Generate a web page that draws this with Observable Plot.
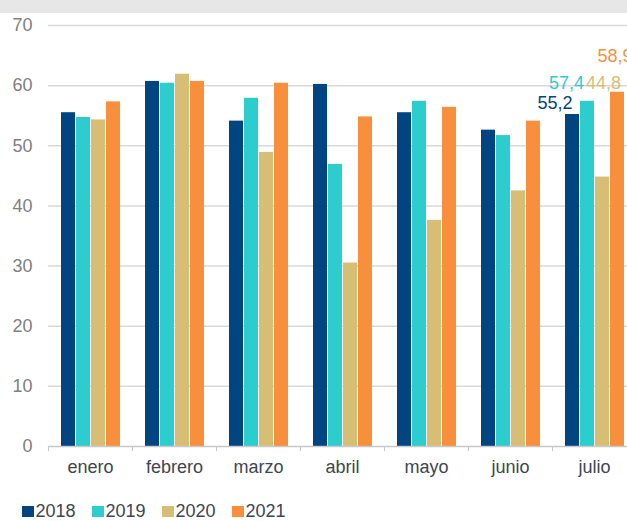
<!DOCTYPE html>
<html><head><meta charset="utf-8">
<script src="https://cdn.jsdelivr.net/npm/d3@7"></script>
<script src="https://cdn.jsdelivr.net/npm/@observablehq/plot@0.6"></script>
<style>
body{margin:0;background:#fff;font-family:"Liberation Sans",Arial,sans-serif;}
#wrap{width:627px;height:521px;overflow:hidden;position:relative;background:#fff;}
#band{height:13px;background:#e7e7e7;}
#chart{width:636px;}
#chart svg{display:block;max-width:none !important;}
#legend{position:absolute;left:22px;top:501px;display:flex;font-size:18px;color:#3d4651;line-height:21px;}
.item{display:flex;align-items:center;width:70px;}
.sw{width:12px;height:11px;margin-right:1.5px;}
</style></head><body><div id="wrap"><div id="band"></div><div id="chart"></div><div id="legend"></div></div>
<script>
const months = ["enero","febrero","marzo","abril","mayo","junio","julio"];
const years = ["2018","2019","2020","2021"];
const colors = ["#004481","#2dcccd","#d8be75","#f78f3c"];
const v2018 = [55.5, 60.7, 54.1, 60.2, 55.5, 52.6, 55.2];
const v2019 = [54.7, 60.4, 57.9, 46.9, 57.4, 51.7, 57.4];
const v2020 = [54.3, 61.9, 48.9, 30.5, 37.6, 42.5, 44.8];
const v2021 = [57.3, 60.7, 60.4, 54.8, 56.4, 54.1, 58.9];
const yTicks = [0, 10, 20, 30, 40, 50, 60, 70];
const labelMonth = "julio";

const series = [v2018, v2019, v2020, v2021];
const data = months.flatMap((m, i) => years.map((y, j) => ({month: m, year: y, value: series[j][i]})));
const fmt = v => v.toFixed(1).replace(".", ",");
const colorOf = y => colors[years.indexOf(y)];
const lab = (year, dx, dy) => Plot.text(
  data.filter(d => d.month === labelMonth && d.year === year),
  {fx: "month", x: "year", y: "value", text: d => fmt(d.value), fill: colorOf(year), dx, dy, fontSize: 18}
);

const chart = Plot.plot({
  width: 636, height: 472,
  marginLeft: 48, marginRight: 0, marginTop: 12, marginBottom: 39,
  style: {fontFamily: "Liberation Sans, Arial, sans-serif", background: "white", maxWidth: "none"},
  fx: {domain: months, padding: 0, label: null},
  x: {domain: years, paddingInner: 1/15, paddingOuter: 0.8333, axis: null},
  y: {domain: [0, 70], label: null},
  color: {domain: years, range: colors},
  marks: [
    Plot.ruleY(yTicks.filter(t => t > 0), {stroke: "#d9d9d9", strokeWidth: 1.5}),
    Plot.barY(data, {fx: "month", x: "year", y: "value", fill: "year"}),
    Plot.ruleY([0], {stroke: "#c8c8c8", strokeWidth: 1.5}),
    Plot.axisY(yTicks, {tickSize: 0, tickPadding: 16, fill: "#808080", fontSize: 18, label: null}),
    Plot.axisFx({anchor: "bottom", tickSize: 0, tickPadding: 14, fill: "#3d4651", fontSize: 18, label: null}),
    Plot.axisFx({anchor: "bottom", tickSize: 5, dx: -42, tickFormat: () => "", stroke: "#c8c8c8", label: null}),
    lab("2018", -17.5, -11),
    lab("2019", -21, -18),
    lab("2020", 1, -93.5),
    lab("2021", -2.5, -36)
  ]
});
chart.style.maxWidth = "none";
chart.style.height = "472px";
document.getElementById("chart").appendChild(chart);

const legend = document.getElementById("legend");
years.forEach((y, i) => {
  const it = document.createElement("div");
  it.className = "item";
  const sw = document.createElement("span");
  sw.className = "sw";
  sw.style.background = colors[i];
  const t = document.createElement("span");
  t.textContent = y;
  it.appendChild(sw); it.appendChild(t);
  legend.appendChild(it);
});
</script></body></html>
